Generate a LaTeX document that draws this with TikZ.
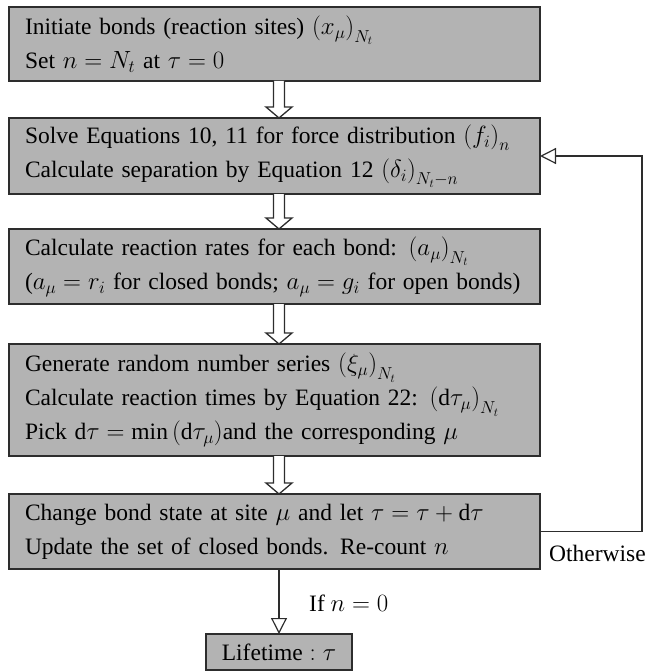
\documentclass[tikz,border=0pt]{standalone}
\usepackage{amsmath,amssymb}
\usepackage{fontspec}
\setmainfont{Liberation Serif}
\usepackage{tikz}
\usetikzlibrary{positioning,arrows.meta,calc}
\definecolor{boxgray}{RGB}{179,179,179}
\definecolor{boxline}{RGB}{45,45,45}
\newcommand{\boxfont}{\fontsize{23.5pt}{34pt}\selectfont}
\newcommand{\dd}{\mathrm{d}}
\newcommand{\flowarrow}[2]{%
  \draw[bigar] ($(#1.south -| life)+(-5.5,0)$) -- ($(#2.north -| life)+(-5.5,-11)$)
    -- ++(-7.5,0) -- (#2.north -| life) -- ++(13,-11) -- ++(-7.5,0)
    -- ($(#1.south -| life)+(5.5,0)$);}
\tikzset{
  blk/.style   ={draw=boxline, fill=boxgray, line width=1.6pt, align=left, outer sep=0pt,
                 font=\boxfont, text width=499pt, inner xsep=16pt, inner ysep=0pt},
  endblk/.style={draw=boxline, fill=boxgray, line width=1.6pt, align=center, outer sep=0pt,
                 font=\boxfont, minimum width=146pt, minimum height=36pt, inner sep=0pt},
  ar/.style    ={-{Triangle[open,length=16pt,width=16pt]}, draw=boxline, line width=1.2pt},
  bigar/.style ={draw=boxline, fill=white, line width=1.3pt},
  lbl/.style   ={font=\boxfont, inner sep=0pt},
}
\begin{document}
\begin{tikzpicture}[x=1pt,y=-1pt]
\useasboundingbox (0,0) rectangle (650,671);
\node[blk,anchor=north west,minimum height=74pt] (init) at (9,7)
  {Initiate bonds (reaction sites) $\left(x_\mu\right)_{N_t}$\\ Set $n=N_t$ at $\tau=0$};
\node[blk,below=37pt of init,minimum height=76pt] (force)
  {Solve Equations 10, 11 for force distribution $\left(f_i\right)_n$\\
   Calculate separation by Equation 12 $\left(\delta_i\right)_{N_t-n}$};
\node[blk,below=35pt of force,minimum height=75pt] (rates)
  {Calculate reaction rates for each bond: $\left(a_\mu\right)_{N_t}$\\
   ($a_\mu=r_i$ for closed bonds; $a_\mu=g_i$ for open bonds)};
\node[blk,below=40pt of rates,minimum height=112pt] (times)
  {Generate random number series $\left(\xi_\mu\right)_{N_t}$\\
   Calculate reaction times by Equation 22: $\left(\dd\tau_\mu\right)_{N_t}$\\
   Pick $\dd\tau=\min\left(\dd\tau_\mu\right)$and the corresponding $\mu$};
\node[blk,below=38pt of times,minimum height=75pt] (update)
  {Change bond state at site $\mu$ and let $\tau=\tau+\dd\tau$\\
   Update the set of closed bonds. Re-count $n$};
\node[endblk,below=65pt of update,xshift=4.5pt] (life) {Lifetime$\;:\tau$};

\flowarrow{init}{force}
\flowarrow{force}{rates}
\flowarrow{rates}{times}
\flowarrow{times}{update}

\draw[ar] (update.south -| life) -- (life.north);
\node[lbl,anchor=west] (ifzero) at ($(update.south -| life)+(30,34)$) {If $n=0$};
\draw[ar] (update.east) -- ++(102,0) |- (force.east);
\node[lbl,anchor=west] (other) at ($(update.east)+(9,22)$) {Otherwise};
\end{tikzpicture}
\end{document}
